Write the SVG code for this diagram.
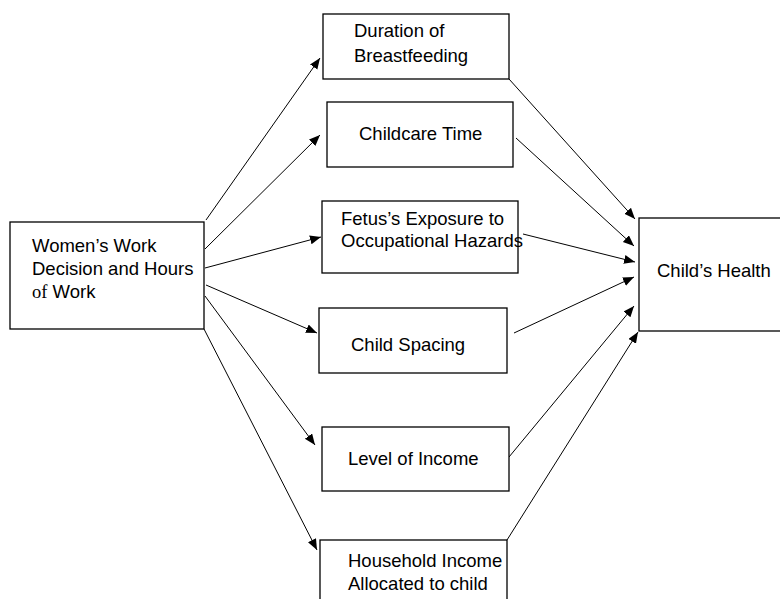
<svg xmlns="http://www.w3.org/2000/svg" width="780" height="599" viewBox="0 0 780 599">
<style>
.box{fill:#fff;stroke:#000;stroke-width:1.3}
.t{font-family:"Liberation Sans",Arial,sans-serif;font-size:18.5px;fill:#000}
.serif{font-family:"Liberation Serif","Times New Roman",serif}
.c{stroke:#000;stroke-width:1;fill:none;marker-end:url(#ah)}
</style>
<defs>
<marker id="ah" markerUnits="userSpaceOnUse" markerWidth="12" markerHeight="10" refX="11" refY="4.5" orient="auto">
<path d="M0,0 L11,4.5 L0,9 z" fill="#000"/>
</marker>
</defs>
<rect width="780" height="599" fill="#fff"/>
<g id="connectors">
<line class="c" x1="206" y1="220" x2="320" y2="58"/>
<line class="c" x1="205" y1="249" x2="320" y2="135"/>
<line class="c" x1="205" y1="268" x2="321" y2="237"/>
<line class="c" x1="206" y1="285" x2="317" y2="333"/>
<line class="c" x1="205" y1="296" x2="315" y2="445"/>
<line class="c" x1="204" y1="329" x2="317" y2="550"/>
<line class="c" x1="509" y1="79" x2="635" y2="219"/>
<line class="c" x1="516" y1="138" x2="634" y2="246"/>
<line class="c" x1="523" y1="234" x2="635" y2="262"/>
<line class="c" x1="514" y1="333" x2="634" y2="277"/>
<line class="c" x1="509" y1="457" x2="634" y2="306"/>
<line class="c" x1="507" y1="540" x2="638" y2="332"/>
</g>
<g id="women-work">
<rect class="box" x="10" y="222" width="194" height="107"/>
<text class="t" x="32" y="252">Women’s Work</text>
<text class="t" x="32" y="275">Decision and Hours</text>
<text class="t" x="32" y="298"><tspan class="serif">of</tspan> Work</text>
</g>
<g id="breastfeeding">
<rect class="box" x="323" y="14" width="186" height="65"/>
<text class="t" x="354" y="37">Duration of</text>
<text class="t" x="354" y="62">Breastfeeding</text>
</g>
<g id="childcare">
<rect class="box" x="327" y="102" width="186" height="65"/>
<text class="t" x="359" y="140">Childcare Time</text>
</g>
<g id="fetus">
<rect class="box" x="322" y="201" width="196" height="72"/>
<text class="t" x="341" y="225">Fetus’s Exposure to</text>
<text class="t" x="341" y="247">Occupational Hazards</text>
</g>
<g id="spacing">
<rect class="box" x="319" y="308" width="188" height="65"/>
<text class="t" x="351" y="351">Child Spacing</text>
</g>
<g id="income">
<rect class="box" x="322" y="427" width="187" height="64"/>
<text class="t" x="348" y="465">Level of Income</text>
</g>
<g id="household">
<rect class="box" x="320" y="540" width="187" height="70"/>
<text class="t" x="348" y="567">Household Income</text>
<text class="t" x="348" y="590">Allocated to child</text>
</g>
<g id="child-health">
<rect class="box" x="639" y="218" width="150" height="113"/>
<text class="t" x="657" y="277">Child’s Health</text>
</g>
</svg>
